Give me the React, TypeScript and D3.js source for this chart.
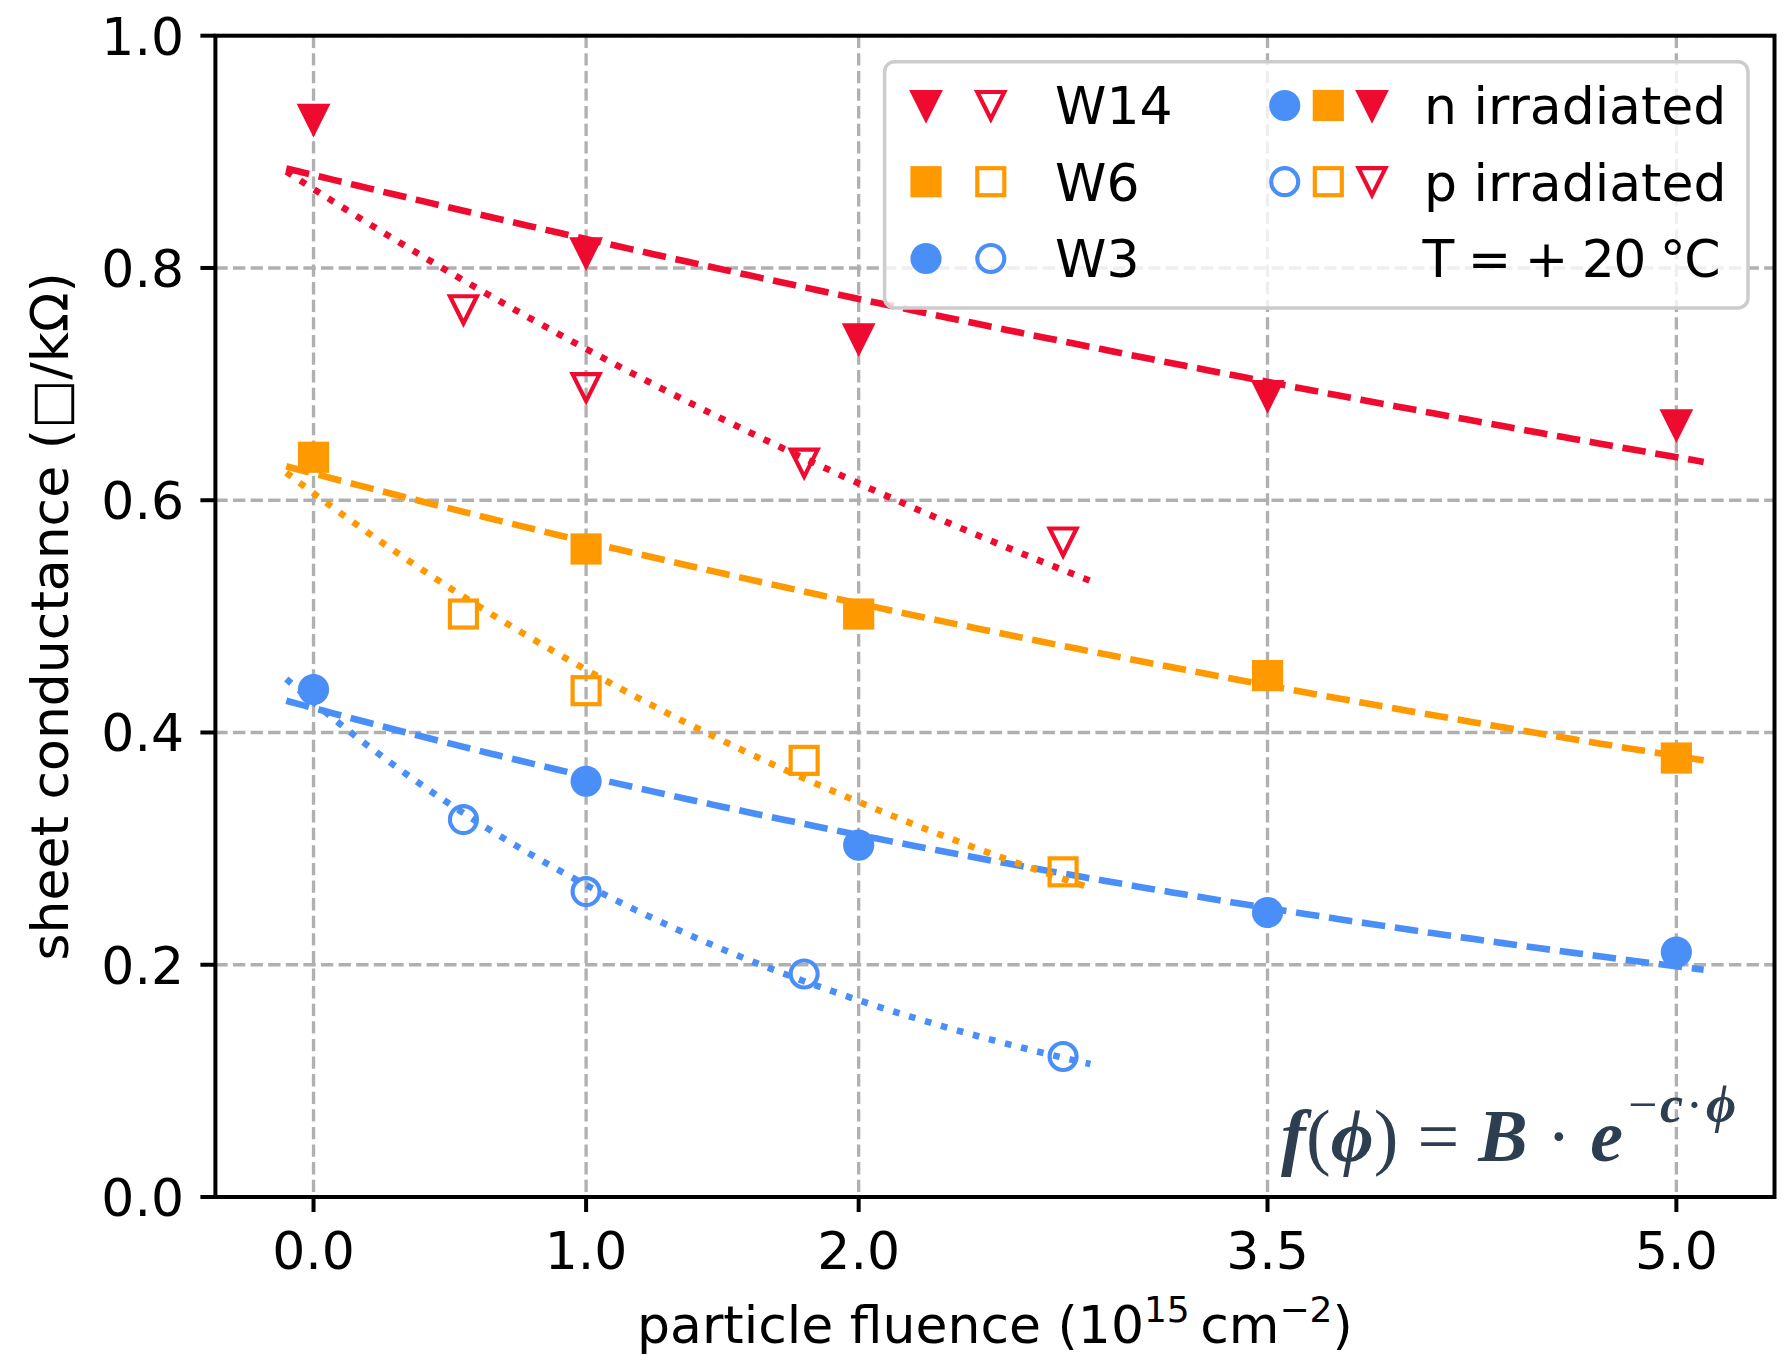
import React from 'react';
import * as d3 from 'd3';

const WIDTH = 1787;
const HEIGHT = 1362;

// Fluence values (10^15 cm^-2)
const nFluence = [0, 1, 2, 3.5, 5];
const pFluence = [0.55, 1.0, 1.8, 2.75];

// Wafers and their measured sheet conductance (□/kΩ)
const wafers = ['W14', 'W6', 'W3'];
const w14N = [0.928, 0.813, 0.739, 0.69, 0.665];
const w14P = [0.764, 0.697, 0.632, 0.564];
const w6N = [0.637, 0.558, 0.502, 0.449, 0.378];
const w6P = [0.502, 0.436, 0.376, 0.28];
const w3N = [0.437, 0.358, 0.303, 0.245, 0.211];
const w3P = [0.325, 0.263, 0.192, 0.121];

// Fit parameters of f(φ) = B·exp(−c·φ), one per wafer (order of `wafers`)
const fitBn = [0.88, 0.623, 0.421];
const fitCn = [0.0646, 0.099, 0.1502];
const fitBp = [0.868, 0.606, 0.426];
const fitCp = [0.1727, 0.2887, 0.4609];
const fitRangeN = [-0.1, 5.1];
const fitRangeP = [-0.1, 2.85];

const colors = ['#ef0a30', '#ff9900', '#4a8ff7'];
const shapes = ['triangle', 'square', 'circle'];

const xTicks = [0, 1, 2, 3.5, 5];
const xTickLabels = ['0.0', '1.0', '2.0', '3.5', '5.0'];
const yTicks = [0, 0.2, 0.4, 0.6, 0.8, 1.0];
const yTickLabels = ['0.0', '0.2', '0.4', '0.6', '0.8', '1.0'];

const nValues = [w14N, w6N, w3N];
const pValues = [w14P, w6P, w3P];

const FONT = 'DejaVu Sans, sans-serif';
const FS = 52;
const MS = 27;
const MEW = 4.17;
const LW = 6.6;

function Marker({ shape, cx, cy, color, filled }: { shape: string; cx: number; cy: number; color: string; filled: boolean }) {
  const h = MS / 2;
  const common = {
    fill: filled ? color : 'none',
    stroke: color,
    strokeWidth: MEW,
    strokeLinejoin: 'miter' as const,
  };
  if (shape === 'triangle') {
    const d = `M${cx - h},${cy - h}L${cx + h},${cy - h}L${cx},${cy + h}Z`;
    return <path d={d} {...common} />;
  }
  if (shape === 'square') {
    return <rect x={cx - h} y={cy - h} width={MS} height={MS} {...common} />;
  }
  return <circle cx={cx} cy={cy} r={h} {...common} />;
}

export default function App() {
  const left = 215.4;
  const right = 1774.5;
  const top = 35.7;
  const bottom = 1197;

  const x = d3.scaleLinear().domain([-0.36, 5.36]).range([left, right]);
  const y = d3.scaleLinear().domain([0, 1]).range([bottom, top]);

  const line = d3
    .line<[number, number]>()
    .x((d) => x(d[0]))
    .y((d) => y(d[1]));

  const fitPath = (B: number, c: number, range: number[]) => {
    const pts: [number, number][] = d3
      .range(0, 121)
      .map((i) => range[0] + ((range[1] - range[0]) * i) / 120)
      .map((phi) => [phi, B * Math.exp(-c * phi)]);
    return line(pts) || '';
  };

  const gridStyle = { stroke: '#b0b0b0', strokeWidth: 3.33, strokeDasharray: '12.3 5.3' };

  // legend geometry
  const legRows = [105.5, 181.7, 258.5];
  const legCol1 = [926, 990.8];
  const legCol2 = [1284.7, 1328.3, 1372];
  const baseOff = 18.8;

  return (
    <svg
      width={WIDTH}
      height={HEIGHT}
      viewBox={`0 0 ${WIDTH} ${HEIGHT}`}
      style={{ position: 'absolute', left: 0, top: 0, display: 'block', background: '#fff' }}
      fontFamily={FONT}
    >
      <rect x={0} y={0} width={WIDTH} height={HEIGHT} fill="#fff" />

      {/* grid */}
      <g>
        {xTicks.map((t) => (
          <line key={'gx' + t} x1={x(t)} x2={x(t)} y1={top} y2={bottom} {...gridStyle} />
        ))}
        {yTicks.map((t) => (
          <line key={'gy' + t} x1={left} x2={right} y1={y(t)} y2={y(t)} {...gridStyle} />
        ))}
      </g>

      {/* exponential fits */}
      <g fill="none" strokeLinecap="butt">
        {wafers.map((w, i) => (
          <path
            key={'fn' + w}
            d={fitPath(fitBn[i], fitCn[i], fitRangeN)}
            stroke={colors[i]}
            strokeWidth={LW}
            strokeDasharray="23.5 9.8"
          />
        ))}
        {wafers.map((w, i) => (
          <path
            key={'fp' + w}
            d={fitPath(fitBp[i], fitCp[i], fitRangeP)}
            stroke={colors[i]}
            strokeWidth={LW}
            strokeDasharray="6.6 10"
          />
        ))}
      </g>

      {/* measured points */}
      <g>
        {wafers.map((w, i) =>
          nValues[i].map((v, j) => (
            <Marker key={'n' + w + j} shape={shapes[i]} cx={x(nFluence[j])} cy={y(v)} color={colors[i]} filled />
          ))
        )}
        {wafers.map((w, i) =>
          pValues[i].map((v, j) => (
            <Marker key={'p' + w + j} shape={shapes[i]} cx={x(pFluence[j])} cy={y(v)} color={colors[i]} filled={false} />
          ))
        )}
      </g>

      {/* fit model */}
      <g fill="#2c3e50" fontFamily="Liberation Serif, serif">
        <text x={1281} y={1161} fontSize={74} textLength={342} lengthAdjust="spacing">
          <tspan fontWeight="bold" fontStyle="italic">f</tspan>
          <tspan>(</tspan>
          <tspan fontWeight="bold" fontStyle="italic">ϕ</tspan>
          <tspan>) = </tspan>
          <tspan fontWeight="bold" fontStyle="italic">B</tspan>
          <tspan> · </tspan>
          <tspan fontWeight="bold" fontStyle="italic">e</tspan>
        </text>
        <text x={1628} y={1122} fontSize={52} textLength={108} lengthAdjust="spacing">
          <tspan>−</tspan>
          <tspan fontWeight="bold" fontStyle="italic">c</tspan>
          <tspan>·</tspan>
          <tspan fontWeight="bold" fontStyle="italic">ϕ</tspan>
        </text>
      </g>

      {/* legend */}
      <g>
        <rect
          x={884.6}
          y={61.7}
          width={1748 - 884.6}
          height={308 - 61.7}
          rx={10}
          ry={10}
          fill="#fff"
          fillOpacity={0.8}
          stroke="#cccccc"
          strokeWidth={3.5}
        />
        {wafers.map((w, i) => (
          <g key={'leg' + w}>
            <Marker shape={shapes[i]} cx={legCol1[0]} cy={legRows[i]} color={colors[i]} filled />
            <Marker shape={shapes[i]} cx={legCol1[1]} cy={legRows[i]} color={colors[i]} filled={false} />
            <text x={1055} y={legRows[i] + baseOff} fontSize={FS} fill="#000">
              {w}
            </text>
          </g>
        ))}
        {[2, 1, 0].map((i, k) => (
          <Marker key={'ln' + i} shape={shapes[i]} cx={legCol2[k]} cy={legRows[0]} color={colors[i]} filled />
        ))}
        {[2, 1, 0].map((i, k) => (
          <Marker key={'lp' + i} shape={shapes[i]} cx={legCol2[k]} cy={legRows[1]} color={colors[i]} filled={false} />
        ))}
        <text x={1424} y={legRows[0] + baseOff} fontSize={FS} fill="#000">
          n irradiated
        </text>
        <text x={1424} y={legRows[1] + baseOff} fontSize={FS} fill="#000">
          p irradiated
        </text>
        <text x={1422.5} y={legRows[2] + baseOff} fontSize={FS} fill="#000" textLength={298} lengthAdjust="spacing">
          T = + 20 °C
        </text>
      </g>

      {/* spines */}
      <rect x={left} y={top} width={right - left} height={bottom - top} fill="none" stroke="#000" strokeWidth={4} />

      {/* ticks and tick labels */}
      <g>
        {xTicks.map((t, i) => (
          <g key={'xt' + t}>
            <line x1={x(t)} x2={x(t)} y1={bottom} y2={bottom + 15} stroke="#000" strokeWidth={4} />
            <text x={x(t)} y={1269} fontSize={FS} textAnchor="middle" fill="#000">
              {xTickLabels[i]}
            </text>
          </g>
        ))}
        {yTicks.map((t, i) => (
          <g key={'yt' + t}>
            <line x1={left - 15} x2={left} y1={y(t)} y2={y(t)} stroke="#000" strokeWidth={4} />
            <text x={184} y={y(t) + baseOff} fontSize={FS} textAnchor="end" fill="#000">
              {yTickLabels[i]}
            </text>
          </g>
        ))}
      </g>

      {/* axis labels */}
      <text x={(left + right) / 2} y={1343} fontSize={FS} textAnchor="middle" fill="#000">
        particle fluence (10
        <tspan fontSize={36} dy={-21}>15</tspan>
        <tspan dy={21}>{'\u2009'}cm</tspan>
        <tspan fontSize={36} dy={-21}>−2</tspan>
        <tspan dy={21}>)</tspan>
      </text>
      <text
        transform={`translate(68, ${(top + bottom) / 2}) rotate(-90)`}
        fontSize={FS}
        textAnchor="middle"
        fill="#000"
      >
        sheet conductance (□/kΩ)
      </text>
    </svg>
  );
}
